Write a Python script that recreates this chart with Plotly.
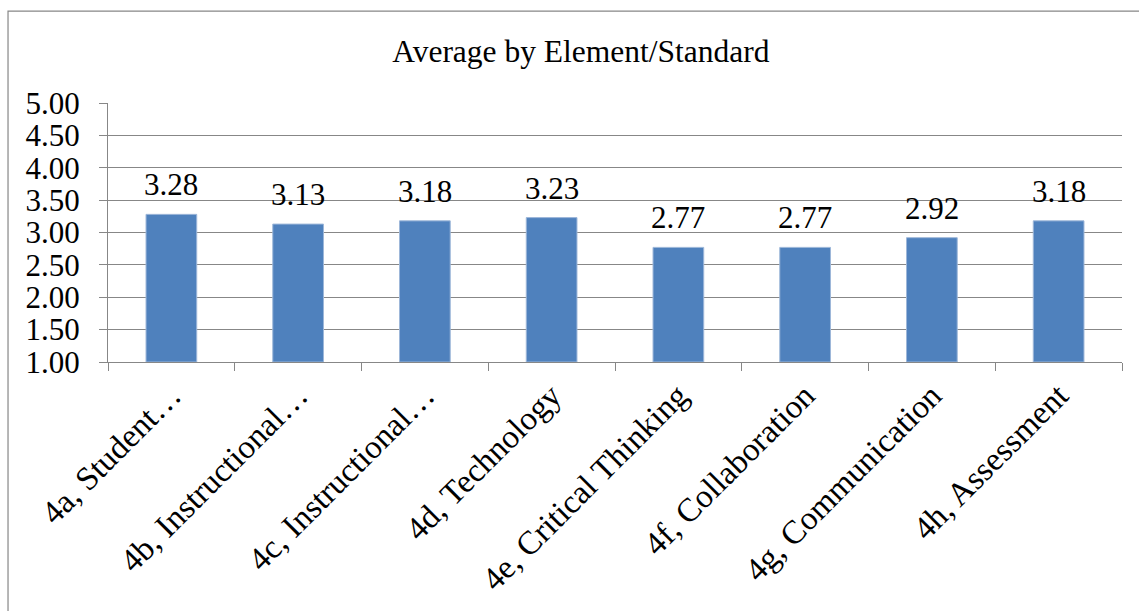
import plotly.graph_objects as go

# Average score per element/standard
categories = [
    "4a, Student…",
    "4b, Instructional…",
    "4c, Instructional…",
    "4d, Technology",
    "4e, Critical Thinking",
    "4f, Collaboration",
    "4g, Communication",
    "4h, Assessment",
]
averages = [3.28, 3.13, 3.18, 3.23, 2.77, 2.77, 2.92, 3.18]
y_ticks = [1.0, 1.5, 2.0, 2.5, 3.0, 3.5, 4.0, 4.5, 5.0]

FONT = "Liberation Serif"
GRAY = "#878787"
BAR = "#4F81BD"
AXIS_FLOOR = 1.0

fig = go.Figure(
    go.Bar(
        x=categories,
        y=[v - AXIS_FLOOR for v in averages],
        base=AXIS_FLOOR,
        marker=dict(color=BAR, line=dict(color="#9DB7D9", width=1)),
        hoverinfo="skip",
    )
)

# value labels above each bar
for c, v in zip(categories, averages):
    fig.add_annotation(
        x=c, y=v, text=f"{v:.2f}", showarrow=False,
        yanchor="bottom", yshift=10,
        font=dict(family=FONT, size=31, color="black"),
    )

# chart frame
fig.add_shape(
    type="rect", xref="paper", yref="paper",
    x0=-0.0986, x1=1.05, y0=-1.2, y1=1.355,
    line=dict(color=GRAY, width=1.2), fillcolor="rgba(0,0,0,0)", layer="below",
)

fig.update_layout(
    width=1139, height=611,
    margin=dict(l=108, r=17, t=103, b=249),
    paper_bgcolor="white", plot_bgcolor="white",
    bargap=0.6,
    showlegend=False,
    title=dict(
        text="Average by Element/Standard",
        x=0.51, xanchor="center", xref="container",
        y=0.9165, yanchor="middle", yref="container",
        font=dict(family=FONT, size=31.5, color="black"),
    ),
    font=dict(family=FONT, color="black"),
)

fig.update_yaxes(
    range=[1.0, 5.0], tickvals=y_ticks, ticktext=[f"{t:.2f}" for t in y_ticks],
    showgrid=True, gridcolor=GRAY, gridwidth=1,
    showline=True, linecolor=GRAY, linewidth=1,
    ticks="outside", ticklen=8, tickcolor=GRAY,
    ticklabelstandoff=13,
    tickfont=dict(family=FONT, size=31, color="black"),
    zeroline=False, fixedrange=True,
)
fig.update_xaxes(
    type="category",
    showline=True, linecolor=GRAY, linewidth=1,
    ticks="outside", ticklen=8, tickcolor=GRAY, tickson="boundaries",
    tickangle=-45,
    tickfont=dict(family=FONT, size=33, color="black"),
    showgrid=False, fixedrange=True,
)

fig.write_html("out.html")
